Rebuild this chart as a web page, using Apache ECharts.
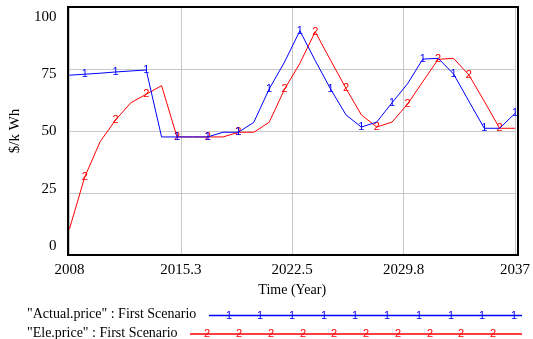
<!DOCTYPE html>
<html>
<head>
<meta charset="utf-8">
<script src="https://cdn.jsdelivr.net/npm/echarts@6/dist/echarts.min.js"></script>
<style>
  html, body { margin: 0; padding: 0; background: #fff; }
  #chart { width: 533px; height: 339px; }
</style>
</head>
<body>
<div id="chart"></div>
<script>
// Simulation years (one value per year)
const years = [2008, 2009, 2010, 2011, 2012, 2013, 2014, 2015, 2016, 2017,
               2018, 2019, 2020, 2021, 2022, 2023, 2024, 2025, 2026, 2027,
               2028, 2029, 2030, 2031, 2032, 2033, 2034, 2035, 2036, 2037];

// "Actual.price" : First Scenario ($/kWh)
const actualPrice = [72.5, 72.9, 73.3, 73.8, 74.2, 74.6, 47.6, 47.6, 47.6, 47.6,
                     49.5, 49.5, 53.5, 66.9, 77.8, 90.4, 78.4, 66.9, 56.5, 51.6,
                     53.6, 61.4, 69.0, 79.0, 79.3, 73.0, 62.0, 51.1, 51.1, 57.1];

// "Ele.price" : First Scenario ($/kWh)
const elePrice = [10.4, 31.5, 45.7, 54.4, 61.4, 64.8, 68.3, 47.6, 47.6, 47.6,
                  47.6, 49.5, 49.5, 53.5, 66.8, 77.3, 90.0, 78.5, 67.2, 56.5,
                  51.6, 53.6, 60.8, 69.9, 78.9, 79.3, 72.6, 62.0, 51.1, 51.1];

// Years carrying the series number tags
const actualTagYears = [2009, 2011, 2013, 2015, 2017, 2019, 2021, 2023, 2025, 2027, 2029, 2031, 2033, 2035, 2037];
const eleTagYears = [2009, 2011, 2013, 2015, 2017, 2019, 2022, 2024, 2026, 2028, 2030, 2032, 2034, 2036];

// Axis tick labels
const xTickLabels = ['2008', '2015.3', '2022.5', '2029.8', '2037'];
const yTickValues = [0, 25, 50, 75, 100];

const startYear = years[0];
const xSpan = years[years.length - 1] - startYear;
const xStep = xSpan / (xTickLabels.length - 1);

const SERIF = '"Liberation Serif", "DejaVu Serif", serif';
const SANS = '"Liberation Sans", Arial, sans-serif';
const BLUE = '#0000ff';
const RED = '#ff0000';

// plot box
const W = 533, H = 339;
const GRID = { left: 68, right: 15, top: 7, bottom: 84 };

function buildData(values, tagYears, tag, color) {
  return years.map((yr, i) => {
    const item = { value: [yr - startYear, values[i]] };
    if (tagYears.indexOf(yr) >= 0) {
      item.label = {
        show: true, formatter: tag, position: 'inside',
        color: color, fontFamily: SANS, fontSize: 11
      };
    }
    return item;
  });
}

const chart = echarts.init(document.getElementById('chart'), null, { renderer: 'canvas' });

// legend rows: caption text followed by a tagged sample line
function legendRow(caption, y, lineStart, tag, color, tagXs) {
  const els = [
    { type: 'text', left: 27, top: y - 8,
      style: { text: caption, font: '14px ' + SERIF, fill: '#000' } },
    { type: 'line', shape: { x1: lineStart, y1: y, x2: 522, y2: y },
      style: { stroke: color, lineWidth: 1.5 } }
  ];
  tagXs.forEach(x => els.push({
    type: 'text', x: x, y: y,
    style: { text: tag, font: '11px ' + SANS, fill: color, align: 'center', verticalAlign: 'middle' }
  }));
  return els;
}

const legendTagsActual = [229, 260, 292, 324, 355, 387, 419, 451, 482, 514];
const legendTagsEle = [207, 239, 271, 303, 334, 366, 398, 430, 461, 493];

// black frame drawn above the grid lines
const frame = {
  type: 'rect', z: 100, silent: true,
  shape: {
    x: GRID.left, y: GRID.top,
    width: W - GRID.left - GRID.right, height: H - GRID.top - GRID.bottom
  },
  style: { fill: 'none', stroke: '#000', lineWidth: 2 }
};

chart.setOption({
  backgroundColor: '#fff',
  animation: false,
  grid: Object.assign({}, GRID, { show: false }),
  xAxis: {
    type: 'value', min: 0, max: xSpan, interval: xStep,
    name: 'Time (Year)', nameLocation: 'middle', nameGap: 26,
    nameTextStyle: { fontFamily: SERIF, fontSize: 14, color: '#000' },
    axisLine: { show: false },
    axisTick: { show: false },
    axisLabel: {
      margin: 8, fontFamily: SERIF, fontSize: 15, color: '#000',
      formatter: v => xTickLabels[Math.round(v / xStep)]
    },
    splitLine: { show: true, lineStyle: { color: '#c8c8c8', width: 1 } }
  },
  yAxis: [
    {
      type: 'value', min: 0, max: 100, interval: 25,
      axisLine: { show: false }, axisTick: { show: false },
      axisLabel: { show: false },
      splitLine: { show: true, lineStyle: { color: '#c8c8c8', width: 1 } }
    },
    {
      // label-only axis: tick labels spread slightly inside the frame
      type: 'value', min: -3.93, max: 104.37, position: 'left',
      name: '$/k Wh', nameLocation: 'middle', nameGap: 46, nameRotate: 90,
      nameTextStyle: { fontFamily: SERIF, fontSize: 15, color: '#000' },
      axisLine: { show: false }, axisTick: { show: false },
      splitLine: { show: false },
      axisLabel: {
        customValues: yTickValues, margin: 13,
        fontFamily: SERIF, fontSize: 15, color: '#000'
      }
    }
  ],
  series: [
    {
      name: 'Actual.price', type: 'line', yAxisIndex: 0,
      data: buildData(actualPrice, actualTagYears, '1', BLUE),
      symbol: 'circle', symbolSize: 0, showSymbol: true,
      lineStyle: { color: BLUE, width: 1 }, itemStyle: { color: BLUE },
      z: 3
    },
    {
      name: 'Ele.price', type: 'line', yAxisIndex: 0,
      data: buildData(elePrice, eleTagYears, '2', RED),
      symbol: 'circle', symbolSize: 0, showSymbol: true,
      lineStyle: { color: RED, width: 1 }, itemStyle: { color: RED },
      z: 2
    }
  ],
  graphic: [frame].concat(
    legendRow('"Actual.price" : First Scenario', 315.5, 209, '1', BLUE, legendTagsActual),
    legendRow('"Ele.price" : First Scenario', 334, 190, '2', RED, legendTagsEle)
  )
});
</script>
</body>
</html>
